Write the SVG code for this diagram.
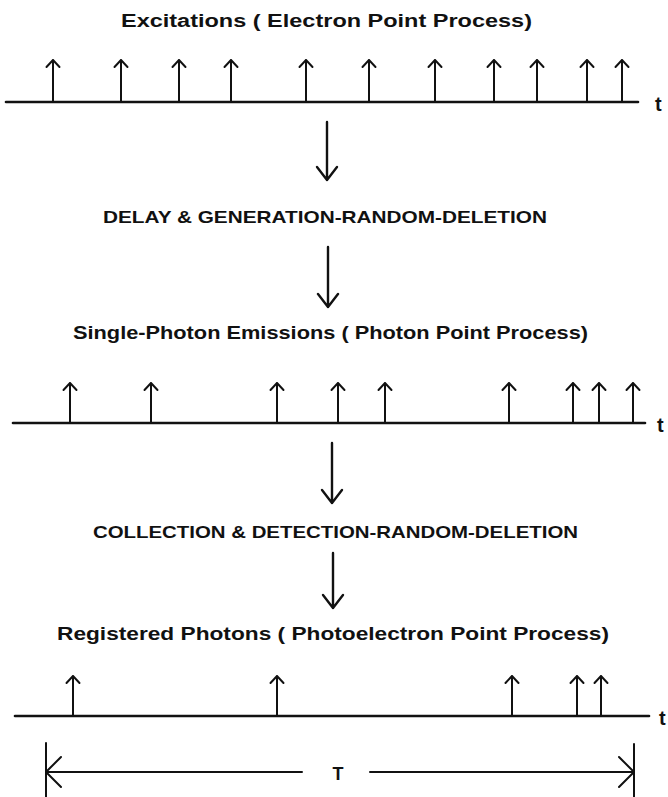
<svg xmlns="http://www.w3.org/2000/svg" width="668" height="797" viewBox="0 0 668 797">
<style>
.lbl{font-family:"Liberation Sans","DejaVu Sans",Arial,sans-serif;font-weight:bold;font-size:18px;fill:#111}
.cap{font-size:17px}
.tt{font-size:20px}
.ax{stroke:#111;stroke-width:2.6;fill:none;stroke-linecap:round}
.sp{stroke:#111;stroke-width:2;fill:none;stroke-linecap:round;stroke-linejoin:round}
.dn{stroke:#111;stroke-width:2.4;fill:none;stroke-linecap:round;stroke-linejoin:round}
</style>
<rect width="668" height="797" fill="#fff"/>
<defs>
<path id="spk" d="M0,0 V-42 M-6.5,-35 L0,-42 L6.5,-35"/>
<path id="spk2" d="M0,0 V-40 M-6.5,-33 L0,-40 L6.5,-33"/>
</defs>

<g id="title-excitations"><text class="lbl" x="326.5" y="27" text-anchor="middle" textLength="411" lengthAdjust="spacingAndGlyphs">Excitations ( Electron Point Process)</text></g>

<g id="timeline-electrons">
<line class="ax" x1="6" y1="102" x2="638" y2="102"/>
<g class="sp">
<use href="#spk" x="53" y="102"/><use href="#spk" x="121" y="102"/><use href="#spk" x="179" y="102"/><use href="#spk" x="231" y="102"/><use href="#spk" x="306" y="102"/><use href="#spk" x="369" y="102"/><use href="#spk" x="435" y="102"/><use href="#spk" x="494" y="102"/><use href="#spk" x="537" y="102"/><use href="#spk" x="587" y="102"/><use href="#spk" x="622" y="102"/>
</g>
<text class="lbl tt" x="655" y="111">t</text>
</g>

<g id="step-delay"><text class="lbl cap" x="325" y="223" text-anchor="middle" textLength="444" lengthAdjust="spacingAndGlyphs">DELAY &amp; GENERATION-RANDOM-DELETION</text></g>

<g id="title-photons"><text class="lbl" x="330.5" y="339" text-anchor="middle" textLength="515" lengthAdjust="spacingAndGlyphs">Single-Photon Emissions ( Photon Point Process)</text></g>

<g id="timeline-photons">
<line class="ax" x1="13" y1="423" x2="645" y2="423"/>
<g class="sp">
<use href="#spk2" x="70" y="423"/><use href="#spk2" x="151" y="423"/><use href="#spk2" x="277" y="423"/><use href="#spk2" x="338" y="423"/><use href="#spk2" x="385" y="423"/><use href="#spk2" x="509" y="423"/><use href="#spk2" x="573" y="423"/><use href="#spk2" x="599" y="423"/><use href="#spk2" x="633" y="423"/>
</g>
<text class="lbl tt" x="657" y="432">t</text>
</g>

<g id="step-collection"><text class="lbl cap" x="335.5" y="538" text-anchor="middle" textLength="485" lengthAdjust="spacingAndGlyphs">COLLECTION &amp; DETECTION-RANDOM-DELETION</text></g>

<g id="title-registered"><text class="lbl" x="333" y="640" text-anchor="middle" textLength="552" lengthAdjust="spacingAndGlyphs">Registered Photons ( Photoelectron Point Process)</text></g>

<g id="timeline-registered">
<line class="ax" x1="15" y1="716" x2="649" y2="716"/>
<g class="sp">
<use href="#spk2" x="73" y="716"/><use href="#spk2" x="277" y="716"/><use href="#spk2" x="512" y="716"/><use href="#spk2" x="577" y="716"/><use href="#spk2" x="601" y="716"/>
</g>
<text class="lbl tt" x="659" y="725">t</text>
</g>

<g id="interval-T">
<line class="sp" x1="46" y1="743" x2="46" y2="797"/>
<line class="sp" x1="634" y1="744" x2="634" y2="797"/>
<path class="sp" d="M46,772 H302 M370,772 H634 M61,757 L46,772 L61,787 M619,757 L634,772 L619,787"/>
<text class="lbl" x="338" y="780" text-anchor="middle" font-size="19">T</text>
</g>

<g id="connectors" class="dn">
<path d="M327,122 V180 M317,167 L327,180 L337,167"/>
<path d="M328,247 V307 M318,294 L328,307 L338,294"/>
<path d="M332,443 V503 M322,490 L332,503 L342,490"/>
<path d="M333,553 V608 M323,595 L333,608 L343,595"/>
</g>
</svg>
